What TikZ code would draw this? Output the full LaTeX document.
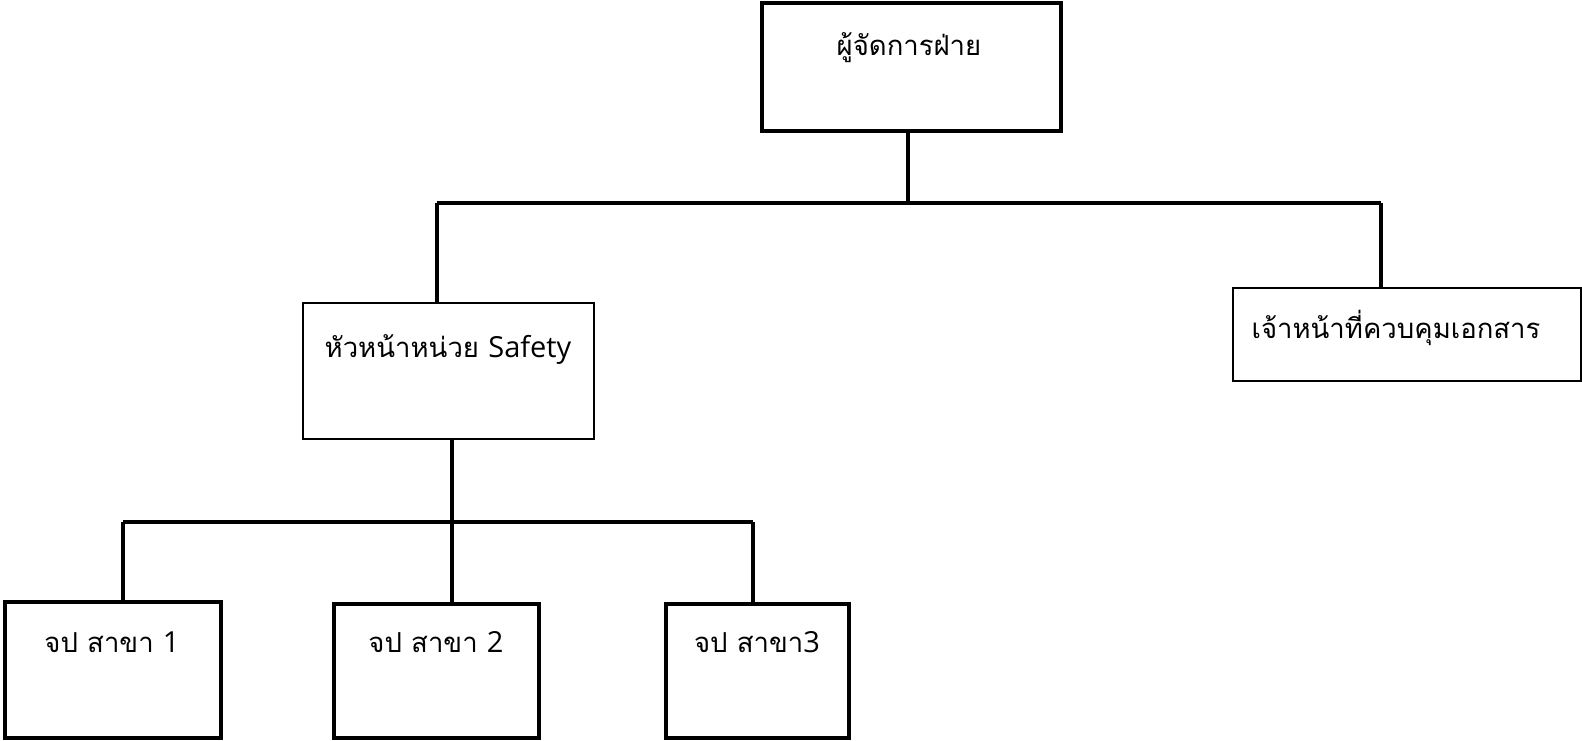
\documentclass[tikz,border=0pt]{standalone}
\usepackage{fontspec}
\newfontfamily\thaifont[Script=Thai]{Loma}
\newfontfamily\latinfont{Open Sans}
\newcommand{\lat}[1]{{\latinfont\fontsize{29}{35}\selectfont #1}}
\begin{document}
\begin{tikzpicture}[x=1pt,y=-1pt,
  thickbox/.style={draw=black, line width=4pt, inner sep=0pt, fill=white},
  thinbox/.style={draw=black, line width=2pt, inner sep=0pt, fill=white},
  lbl/.style={anchor=base, inner sep=0pt, font=\thaifont\fontsize{27.5}{33}\selectfont},
  link/.style={draw=black, line width=4pt}]
\useasboundingbox (0,0) rectangle (1582,740);

% boxes
\node[thickbox, minimum width=299pt, minimum height=128pt] (mgr)  at (911.5,67) {};
\node[thinbox,  minimum width=291pt, minimum height=136pt] (head) at (448.5,371) {};
\node[thinbox,  minimum width=348pt, minimum height=93pt]  (doc)  at (1407,334.5) {};
\node[thickbox, minimum width=216pt, minimum height=136pt] (b1)   at (113,670) {};
\node[thickbox, minimum width=205pt, minimum height=134pt] (b2)   at (436.5,671) {};
\node[thickbox, minimum width=183pt, minimum height=134pt] (b3)   at (757.5,671) {};

% labels
\node[lbl] (tmgr)  at (909,55)   {ผู้จัดการฝ่าย};
\node[lbl] (thead) at (448,357)  {หัวหน้าหน่วย \lat{Safety}};
\node[lbl] (tdoc)  at (1396,338) {เจ้าหน้าที่ควบคุมเอกสาร};
\node[lbl] (tb1)   at (112,652)  {จป สาขา \lat{1}};
\node[lbl] (tb2)   at (436,652)  {จป สาขา \lat{2}};
\node[lbl] (tb3)   at (757,652)  {จป สาขา\lat{3}};

% bus coordinates
\coordinate (m)  at (908,203);
\coordinate (mL) at (437,203);
\coordinate (mR) at (1381,203);
\coordinate (h)  at (452,522);
\coordinate (hL) at (123,522);
\coordinate (hR) at (753,522);

% upper level connectors
\draw[link] (mgr.south -| m) -- (m);
\draw[link] (mL) -- (mR);
\draw[link] (mL) -- (head.north -| mL);
\draw[link] (mR) -- (doc.north -| mR);

% lower level connectors
\draw[link] (head.south -| h) -- (b2.north -| h);
\draw[link] (hL) -- (hR);
\draw[link] (hL) -- (b1.north -| hL);
\draw[link] (hR) -- (b3.north -| hR);
\end{tikzpicture}
\end{document}
